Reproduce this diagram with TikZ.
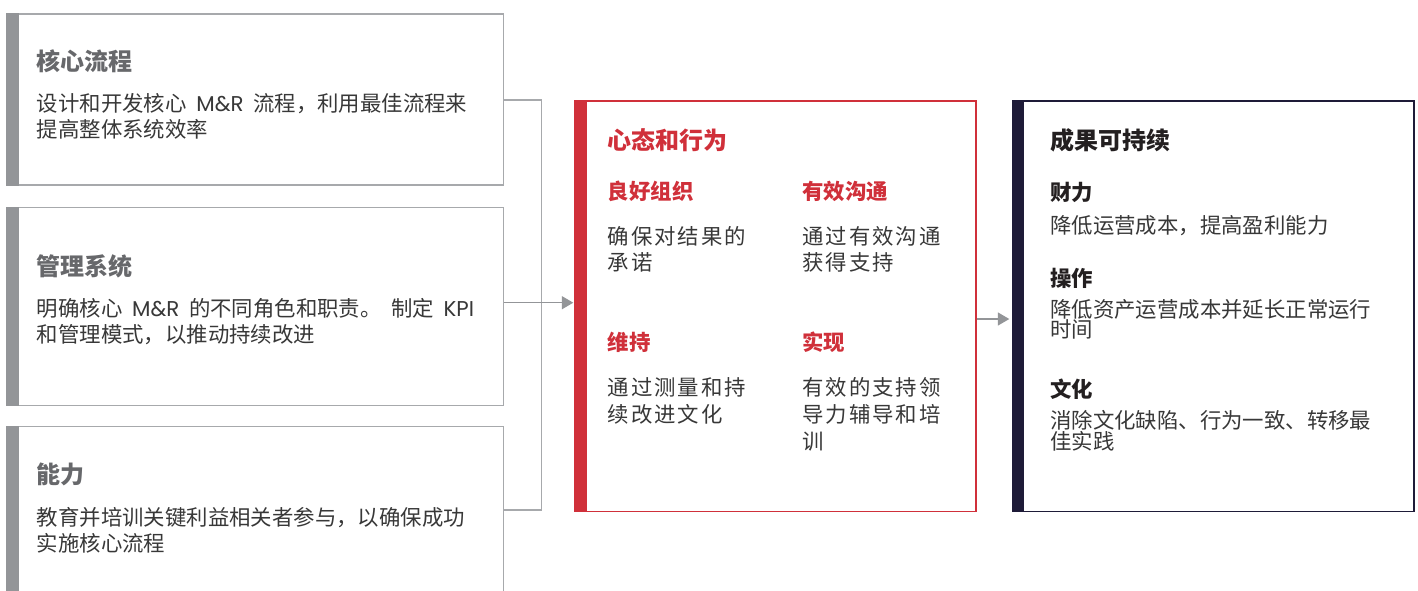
\documentclass[tikz,border=0pt]{standalone}
\usepackage{fontspec}
\setmainfont{Noto Sans CJK SC}
\newfontfamily\widefont{Noto Sans CJK SC}[LetterSpace=9]
\newfontfamily\latin{Poppins}
\usetikzlibrary{arrows.meta}
\definecolor{bargray}{HTML}{939598}
\definecolor{edgegray}{HTML}{A7A9AC}
\definecolor{headgray}{HTML}{67686B}
\definecolor{bodyink}{HTML}{383838}
\definecolor{mmred}{HTML}{D0303A}
\definecolor{mmnavy}{HTML}{1E1B38}
\definecolor{titleink}{HTML}{231F20}
\newcommand\hdfont{\fontsize{24}{28}\selectfont\bfseries}
\newcommand\subfont{\fontsize{21.4}{26}\selectfont\bfseries}
\newcommand\txtfont{\fontsize{21.4}{26.2}\selectfont}
\newcommand\widetxt{\widefont\fontsize{21.4}{26.7}\selectfont}
\newcommand\tighttxt{\fontsize{21.4}{19.7}\selectfont}
\newcommand\gap{\hspace{.45em}}
\begin{document}
\begin{tikzpicture}[x=1pt,y=-1pt,
    panel/.style={draw=#1, line width=1.2pt, anchor=north west, inner sep=0pt},
    txt/.style={anchor=base west, inner sep=0pt, align=left},
    wire/.style={draw=edgegray, line width=1.3pt},
    feed/.style={draw=bargray, line width=1.5pt, -{Triangle[length=11.5pt,width=13pt]}}]
\clip (0,0) rectangle (1418,590);
\fill[white] (0,0) rectangle (1418,590);
\node[panel=edgegray, minimum width=497pt, minimum height=171pt] (core) at (6,13.3) {};
\node[panel=edgegray, minimum width=497pt, minimum height=198.3pt] (mgmt) at (6,206.7) {};
\node[panel=edgegray, minimum width=497pt, minimum height=200pt] (cap) at (6,425.7) {};
\node[panel=mmred, minimum width=401pt, minimum height=410.4pt] (mind) at (574.3,100.3) {};
\node[panel=mmnavy, minimum width=401pt, minimum height=410.4pt] (result) at (1012.3,100.3) {};
\fill[bargray] (core.north west) rectangle ([xshift=12.5pt]core.south west);
\fill[bargray] (mgmt.north west) rectangle ([xshift=12.5pt]mgmt.south west);
\fill[bargray] (cap.north west) rectangle ([xshift=12.5pt]cap.south west);
\fill[mmred] (mind.north west) rectangle ([xshift=12.5pt]mind.south west);
\fill[mmnavy] (result.north west) rectangle ([xshift=11.7pt]result.south west);
\coordinate (busTop) at (541.7,100);
\coordinate (busBot) at (541.7,510);
\coordinate (inMind) at (560,302.7);
\coordinate (outMind) at (1000,319);
\draw[wire] (core.east |- busTop) -- (busTop) -- (busBot) -- (cap.east |- busBot);
\draw[feed] (mgmt.east |- inMind) -- ([xshift=-1pt]mind.west |- inMind);
\draw[feed] (mind.east |- outMind) -- ([xshift=-3pt]result.west |- outMind);
\node[txt, text=headgray, font=\hdfont] (core-h) at (36.7,70.1) {核心流程};
\node[txt, text=bodyink, font=\txtfont] (core-b) at (36.7,137.8) {设计和开发核心\gap{\latin M\&R}\gap 流程，利用最佳流程来\\提高整体系统效率};
\node[txt, text=headgray, font=\hdfont] (mgmt-h) at (36.7,275.1) {管理系统};
\node[txt, text=bodyink, font=\txtfont] (mgmt-b) at (36.7,342.8) {明确核心\gap{\latin M\&R}\gap 的不同角色和职责。\gap 制定\gap{\latin KPI}\\和管理模式，以推动持续改进};
\node[txt, text=headgray, font=\hdfont] (cap-h) at (36.7,483.1) {能力};
\node[txt, text=bodyink, font=\txtfont] (cap-b) at (36.7,551.8) {教育并培训关键利益相关者参与，以确保成功\\实施核心流程};
\node[txt, text=mmred, font=\hdfont] (mind-h) at (607.7,149.1) {心态和行为};
\node[txt, text=mmred, font=\subfont] (org-h) at (607.7,199.6) {良好组织};
\node[txt, text=bodyink, font=\widetxt] (org-b) at (607.7,270.8) {确保对结果的\\承诺};
\node[txt, text=mmred, font=\subfont] (com-h) at (802.3,199.6) {有效沟通};
\node[txt, text=bodyink, font=\widetxt] (com-b) at (802.3,270.8) {通过有效沟通\\获得支持};
\node[txt, text=mmred, font=\subfont] (keep-h) at (607.7,350.6) {维持};
\node[txt, text=bodyink, font=\widetxt] (keep-b) at (607.7,422.3) {通过测量和持\\续改进文化};
\node[txt, text=mmred, font=\subfont] (real-h) at (802.3,350.6) {实现};
\node[txt, text=bodyink, font=\widetxt] (real-b) at (802.3,449) {有效的支持领\\导力辅导和培\\训};
\node[txt, text=titleink, font=\hdfont] (result-h) at (1050,149.1) {成果可持续};
\node[txt, text=titleink, font=\subfont] (fin-h) at (1050,200.6) {财力};
\node[txt, text=bodyink, font=\tighttxt] (fin-b) at (1050,233.6) {降低运营成本，提高盈利能力};
\node[txt, text=titleink, font=\subfont] (ops-h) at (1050,286.6) {操作};
\node[txt, text=bodyink, font=\tighttxt] (ops-b) at (1050,337.8) {降低资产运营成本并延长正常运行\\时间};
\node[txt, text=titleink, font=\subfont] (cul-h) at (1050,397.1) {文化};
\node[txt, text=bodyink, font=\tighttxt] (cul-b) at (1050,449.8) {消除文化缺陷、行为一致、转移最\\佳实践};
\end{tikzpicture}
\end{document}
